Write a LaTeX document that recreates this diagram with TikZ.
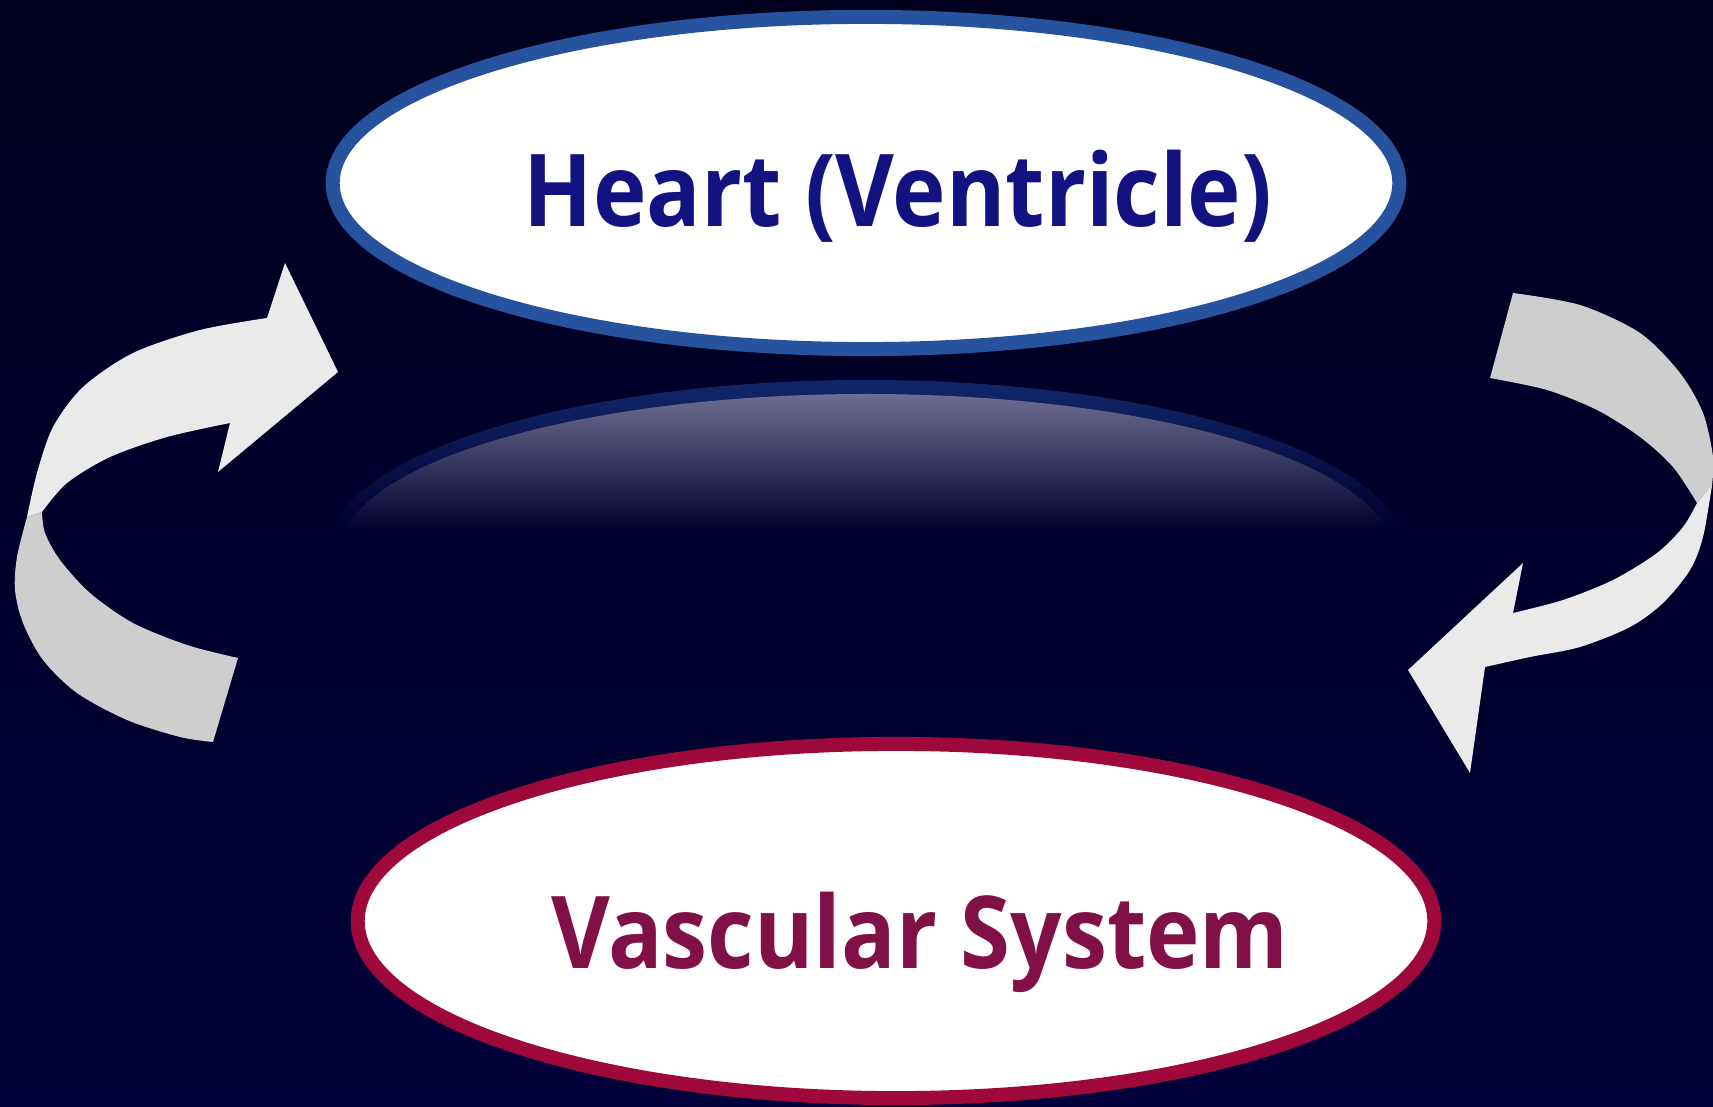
\documentclass[tikz,border=0pt]{standalone}
\usepackage{fontspec}
\newfontfamily\ovalfont{Open Sans}[FakeStretch=0.9]
\usetikzlibrary{shapes.geometric,positioning}

\definecolor{bgtop}{RGB}{0,0,30}
\definecolor{bgbottom}{RGB}{0,0,58}
\definecolor{bgmid}{RGB}{0,0,44}
\definecolor{heartblue}{RGB}{38,82,158}
\definecolor{heartink}{RGB}{18,18,128}
\definecolor{vesselred}{RGB}{158,8,58}
\definecolor{vesselink}{RGB}{128,16,70}
\definecolor{reflrim}{RGB}{18,40,108}
\definecolor{reflfill}{RGB}{112,110,146}
\definecolor{ribbonfront}{RGB}{234,234,234}
\definecolor{ribbonback}{RGB}{206,206,206}

\begin{document}
\begin{tikzpicture}[
  x=0.01cm, y=-0.01cm,
  oval/.style={ellipse, fill=white, line width=0.14cm, inner sep=0pt},
  heartoval/.style={oval, draw=heartblue, minimum width=10.66cm, minimum height=3.32cm},
  vesseloval/.style={oval, draw=vesselred, minimum width=10.76cm, minimum height=3.54cm},
  ovaltext/.style={anchor=base, inner sep=0pt, font=\ovalfont\bfseries\fontsize{28.6pt}{34pt}\selectfont},
  front/.style={fill=ribbonfront},
  back/.style={fill=ribbonback},
]
\useasboundingbox (0,0) rectangle (1713,1107);
\shade[top color=bgtop, bottom color=bgbottom] (0,0) rectangle (1713,1107);
\clip (0,0) rectangle (1713,1107);

\begin{scope}
  \clip (866,553) ellipse [x radius=540, y radius=173];
  \shade[top color=reflrim, bottom color=bgmid] (300,376) rectangle (1430,532);
\end{scope}
\begin{scope}
  \clip (866,553) ellipse [x radius=526, y radius=159];
  \shade[top color=reflfill, bottom color=bgmid] (300,392) rectangle (1430,530);
\end{scope}

\node[heartoval] (heart) at (866,183) {};
\node[vesseloval] (vessels) at (896,921) {};
\node[ovaltext, text=heartink] (heartlbl) at (898,227) {Heart (Ventricle)};
\node[ovaltext, text=vesselink] (vessellbl) at (920,968) {Vascular System};

\fill[front] plot[smooth] coordinates {(27,517) (37,473) (53,427) (83,387) (133,353) (200,330) (267,318)}
  -- (285,263) -- (338,372) -- (218,472)
  -- plot[smooth] coordinates {(230,423) (167,437) (110,457) (67,483) (42,512)} -- cycle;
\fill[back] plot[smooth] coordinates {(42,512) (45,533) (60,560) (90,593) (133,623) (187,645) (238,658)}
  -- plot[smooth] coordinates {(213,742) (180,737) (127,720) (77,693) (43,660) (23,623) (15,590) (17,557) (27,517)} -- cycle;

\fill[back] plot[smooth] coordinates {(1513,293) (1580,305) (1640,333) (1680,373) (1703,413) (1713,457) (1712,485)}
  -- plot[smooth] coordinates {(1697,503) (1673,467) (1640,437) (1597,410) (1547,390) (1490,378)} -- cycle;
\fill[front] plot[smooth] coordinates {(1712,485) (1703,537) (1690,570) (1663,603) (1630,627) (1580,647) (1530,657) (1485,667)}
  -- (1470,773) -- (1408,670) -- (1523,563)
  -- plot[smooth] coordinates {(1513,613) (1563,600) (1613,580) (1657,553) (1683,527) (1697,503)} -- cycle;
\end{tikzpicture}
\end{document}
